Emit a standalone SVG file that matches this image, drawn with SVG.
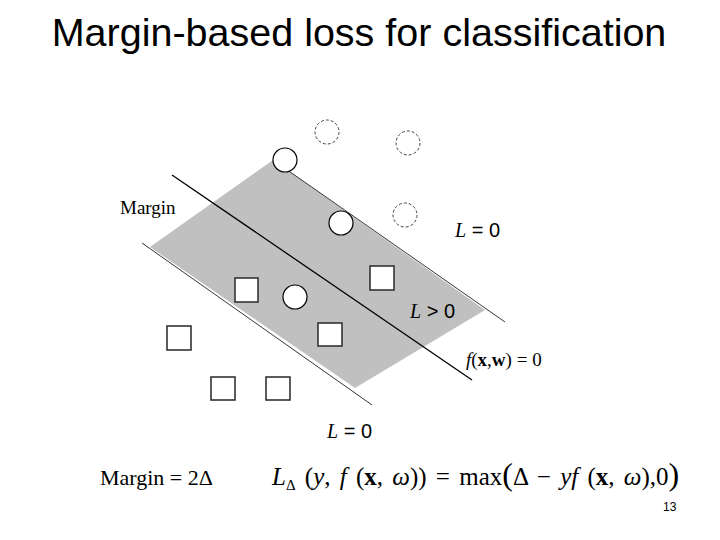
<svg xmlns="http://www.w3.org/2000/svg" width="720" height="540" viewBox="0 0 720 540">
<style>
.s{font-family:"Liberation Serif",serif;fill:#000}
.a{font-family:"Liberation Sans",sans-serif;fill:#000}
.c{fill:#fff;stroke:#000;stroke-width:1.2}
.d{fill:#fff;stroke:#444;stroke-width:1;stroke-dasharray:3 2}
.q{fill:#fff;stroke:#333;stroke-width:1.6}
</style>
<rect width="720" height="540" fill="#fff"/>
<text x="359" y="46" class="a" font-size="39.5" text-anchor="middle">Margin-based loss for classification</text>
<polygon points="273,160 485,310 355,388 150,247" fill="#c0c0c0"/>
<g id="connectors" stroke="#000" fill="none">
<line x1="273" y1="160" x2="505" y2="322" stroke-width="0.8"/>
<line x1="142" y1="243" x2="372" y2="405" stroke-width="0.8"/>
<line x1="172" y1="175" x2="472" y2="380" stroke-width="1.3"/>
</g>
<g id="circles">
<circle class="c" cx="285" cy="160" r="12"/>
<circle class="c" cx="341" cy="223" r="12"/>
<circle class="c" cx="295" cy="297" r="12"/>
<circle class="d" cx="327" cy="132" r="12"/>
<circle class="d" cx="408" cy="143" r="12"/>
<circle class="d" cx="405" cy="215" r="12"/>
</g>
<g id="squares">
<rect class="q" x="235" y="278" width="23" height="24"/>
<rect class="q" x="370" y="266" width="24" height="24"/>
<rect class="q" x="318" y="323" width="24" height="23"/>
<rect class="q" x="167" y="326" width="24" height="24"/>
<rect class="q" x="211" y="377" width="24" height="23"/>
<rect class="q" x="266" y="377" width="24" height="23"/>
</g>
<text x="120" y="214" class="s" font-size="19">Margin</text>
<text x="455" y="237" font-size="20"><tspan class="s" font-style="italic">L</tspan><tspan class="a"> = 0</tspan></text>
<text x="410" y="318" font-size="20"><tspan class="s" font-style="italic">L</tspan><tspan class="a"> &gt; 0</tspan></text>
<text x="466" y="366" class="s" font-size="19"><tspan font-style="italic">f</tspan>(<tspan font-weight="bold">x</tspan>,<tspan font-weight="bold">w</tspan>) = 0</text>
<text x="327" y="438" font-size="20"><tspan class="s" font-style="italic">L</tspan><tspan class="a"> = 0</tspan></text>
<text x="100" y="485" class="s" font-size="22">Margin = 2Δ</text>
<text x="272" y="485" class="s" font-size="25" word-spacing="3"><tspan font-style="italic">L</tspan><tspan font-size="15" dy="5">Δ</tspan><tspan dy="-5"> (</tspan><tspan font-style="italic">y</tspan>, <tspan font-style="italic">f</tspan> (<tspan font-weight="bold">x</tspan>, <tspan font-style="italic">ω</tspan>)) = max<tspan font-size="32">(</tspan>Δ − <tspan font-style="italic">yf</tspan> (<tspan font-weight="bold">x</tspan>, <tspan font-style="italic">ω</tspan>),0<tspan font-size="32">)</tspan></text>
<text x="663" y="511" class="a" font-size="12">13</text>
</svg>
